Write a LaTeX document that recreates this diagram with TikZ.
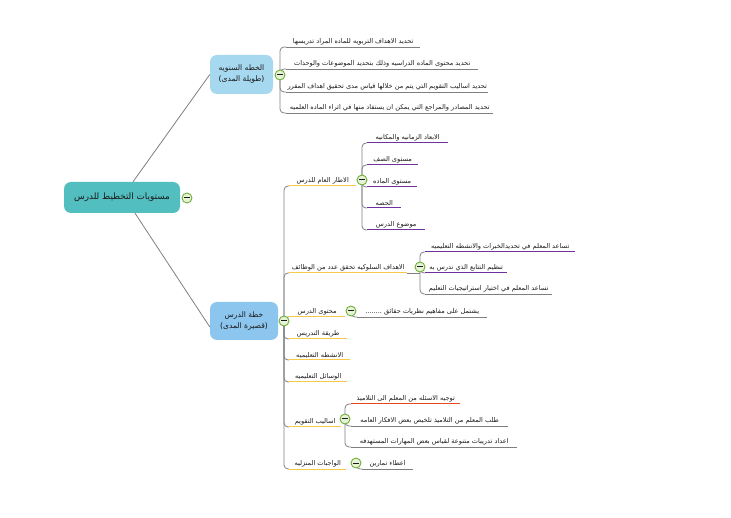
\documentclass[tikz,border=0pt]{standalone}
\usepackage{fontspec}
\TeXXeTstate=1
\newfontfamily\arabicfont[Script=Arabic]{DejaVu Sans}
\newcommand{\artxt}[1]{\arabicfont\beginR #1\endR}
\definecolor{linegray}{HTML}{7F7F7F}
\definecolor{uyellow}{HTML}{F7C948}
\definecolor{upurple}{HTML}{7030A0}
\definecolor{ured}{HTML}{E8461E}
\definecolor{txt}{HTML}{1A1A1A}
\definecolor{rootfill}{HTML}{52BEC0}
\definecolor{bonefill}{HTML}{A6D8F0}
\definecolor{btwofill}{HTML}{8CC5EE}
\definecolor{mgreen}{HTML}{6FAE3A}
\definecolor{lgreen}{HTML}{E6F3D6}
\tikzset{
  conn/.style={draw=linegray, line width=0.8pt, rounded corners=4pt},
  leaf/.style={anchor=south west, inner xsep=0pt, inner ysep=1.8pt, align=center,
    font=\fontsize{6.6}{8}\selectfont, text=txt},
  ulgray/.style={draw=linegray, line width=0.8pt},
  ulyellow/.style={draw=uyellow, line width=1pt},
  ulpurple/.style={draw=upurple, line width=1pt},
  ulred/.style={draw=ured, line width=1pt},
  topic/.style={rounded corners=7pt, align=center, text=txt, inner sep=0pt,
    font=\fontsize{7.6}{11}\selectfont},
  minus/.style={circle, draw=mgreen, line width=0.9pt, fill=lgreen, minimum size=10pt, inner sep=0pt,
    path picture={\draw[line width=1pt, draw=txt] ([xshift=-2.6pt]path picture bounding box.center) -- ([xshift=2.6pt]path picture bounding box.center);}},
}
\begin{document}
\begin{tikzpicture}[x=1pt,y=-1pt]
\useasboundingbox (0,0) rectangle (731,518);
% topics
\node[topic, fill=rootfill, minimum width=116pt, minimum height=31pt, font=\fontsize{8.8}{11}\selectfont] (root) at (122,197.5) {\artxt{مستويات التخطيط للدرس}};
\node[topic, fill=bonefill, minimum width=63pt, minimum height=39pt] (b1) at (241.5,74.5) {\artxt{الخطه السنويه}\\\artxt{(طويلة المدى)}};
\node[topic, fill=btwofill, minimum width=68pt, minimum height=38pt] (b2) at (244,321) {\artxt{خطة الدرس}\\\artxt{(قصيرة المدى)}};
% junction points
\coordinate (m0) at (187,198);
\coordinate (m1) at (280,75);
\coordinate (m2) at (284,321);
\coordinate (m3) at (362,180);
\coordinate (m4) at (420,267);
\coordinate (m5) at (351,311);
\coordinate (m6) at (345,419);
\coordinate (m7) at (356,463);
% leaves: branch 1
\node[leaf, minimum width=134pt] (c11) at (286,47) {\artxt{تحديد الاهداف التربويه للماده المراد تدريسها}};
\node[leaf, minimum width=192pt] (c12) at (286,69) {\artxt{تحديد محتوى الماده الدراسيه وذلك بتحديد الموضوعات والوحدات}};
\node[leaf, minimum width=202pt] (c13) at (286,92) {\artxt{تحديد اساليب التقويم التي يتم من خلالها قياس مدى تحقيق اهداف المقرر}};
\node[leaf, minimum width=207pt] (c14) at (286,113) {\artxt{تحديد المصادر والمراجع التي يمكن ان يستفاد منها في اثراء الماده العلميه}};
% branch 2, level 2
\node[leaf, minimum width=67pt] (d1) at (289,186) {\artxt{الاطار العام للدرس}};
\node[leaf, minimum width=118pt] (d2) at (289,273) {\artxt{الاهداف السلوكيه تحقق عدد من الوظائف}};
\node[leaf, minimum width=56pt] (d3) at (289,317) {\artxt{محتوى الدرس}};
\node[leaf, minimum width=58pt] (d4) at (289,339) {\artxt{طريقة التدريس}};
\node[leaf, minimum width=61pt] (d5) at (289,360) {\artxt{الانشطه التعليميه}};
\node[leaf, minimum width=58pt] (d6) at (289,382) {\artxt{الوسائل التعليميه}};
\node[leaf, minimum width=52pt] (d7) at (289,427) {\artxt{اساليب التقويم}};
\node[leaf, minimum width=57pt] (d8) at (289,469) {\artxt{الواجبات المنزليه}};
% level 3
\node[leaf, minimum width=81pt] (e11) at (367,143) {\artxt{الابعاد الزمانيه والمكانيه}};
\node[leaf, minimum width=51pt] (e12) at (367,165) {\artxt{مستوى الصف}};
\node[leaf, minimum width=50pt] (e13) at (367,187) {\artxt{مستوى الماده}};
\node[leaf, minimum width=34pt] (e14) at (367,208) {\artxt{الحصه}};
\node[leaf, minimum width=58pt] (e15) at (367,230) {\artxt{موضوع الدرس}};
\node[leaf, minimum width=150pt] (f1) at (425,252) {\artxt{تساعد المعلم في تحديدالخبرات والانشطه التعليميه}};
\node[leaf, minimum width=82pt] (f2) at (425,273) {\artxt{تنظيم التتابع الذي ندرس به}};
\node[leaf, minimum width=127pt] (f3) at (425,294) {\artxt{تساعد المعلم في اختيار استراتيجيات التعليم}};
\node[leaf, minimum width=130pt] (g1) at (357,317) {\artxt{يشتمل على مفاهيم نظريات حقائق ........}};
\node[leaf, minimum width=109pt] (h1) at (351,404) {\artxt{توجيه الاسئله من المعلم الى التلاميذ}};
\node[leaf, minimum width=157pt] (h2) at (351,426) {\artxt{طلب المعلم من التلاميذ تلخيص بعض الافكار العامه}};
\node[leaf, minimum width=166pt] (h3) at (351,447) {\artxt{اعداد تدريبات متنوعة لقياس بعض المهارات المستهدفه}};
\node[leaf, minimum width=51pt] (i1) at (362,469) {\artxt{اعطاء تمارين}};
% main connectors
\draw[linegray, line width=0.8pt] ([xshift=11pt]root.north) -- (b1.west);
\draw[linegray, line width=0.8pt] ([xshift=13pt]root.south) -- ([yshift=-6pt]b2.west);
% brackets
\foreach \n in {c11,c12,c13,c14} \draw[conn] (m1) |- (\n.south west);
\foreach \n in {d1,d2,d3,d4,d5,d6,d7,d8} \draw[conn] (m2) |- (\n.south west);
\foreach \n in {e11,e12,e13,e14,e15} \draw[conn] (m3) |- (\n.south west);
\foreach \n in {f1,f2,f3} \draw[conn] (m4) |- (\n.south west);
\draw[conn] (m5) |- (g1.south west);
\foreach \n in {h1,h2,h3} \draw[conn] (m6) |- (\n.south west);
\draw[conn] (m7) |- (i1.south west);
\draw[conn] (d2.south east) -- (d2.south east -| m4);
% underlines
\foreach \n in {c11,c12,c13,c14,f3,g1,h2,h3,i1} \draw[ulgray] (\n.south west) -- (\n.south east);
\foreach \n in {d1,d2,d3,d4,d5,d6,d7,d8} \draw[ulyellow] (\n.south west) -- (\n.south east);
\foreach \n in {e11,e12,e13,e14,e15,f1,f2} \draw[ulpurple] (\n.south west) -- (\n.south east);
\draw[ulred] (h1.south west) -- (h1.south east);
% collapse markers
\foreach \m in {m0,m1,m2,m3,m4,m5,m6,m7} \node[minus] (\m c) at (\m) {};
\end{tikzpicture}
\end{document}
